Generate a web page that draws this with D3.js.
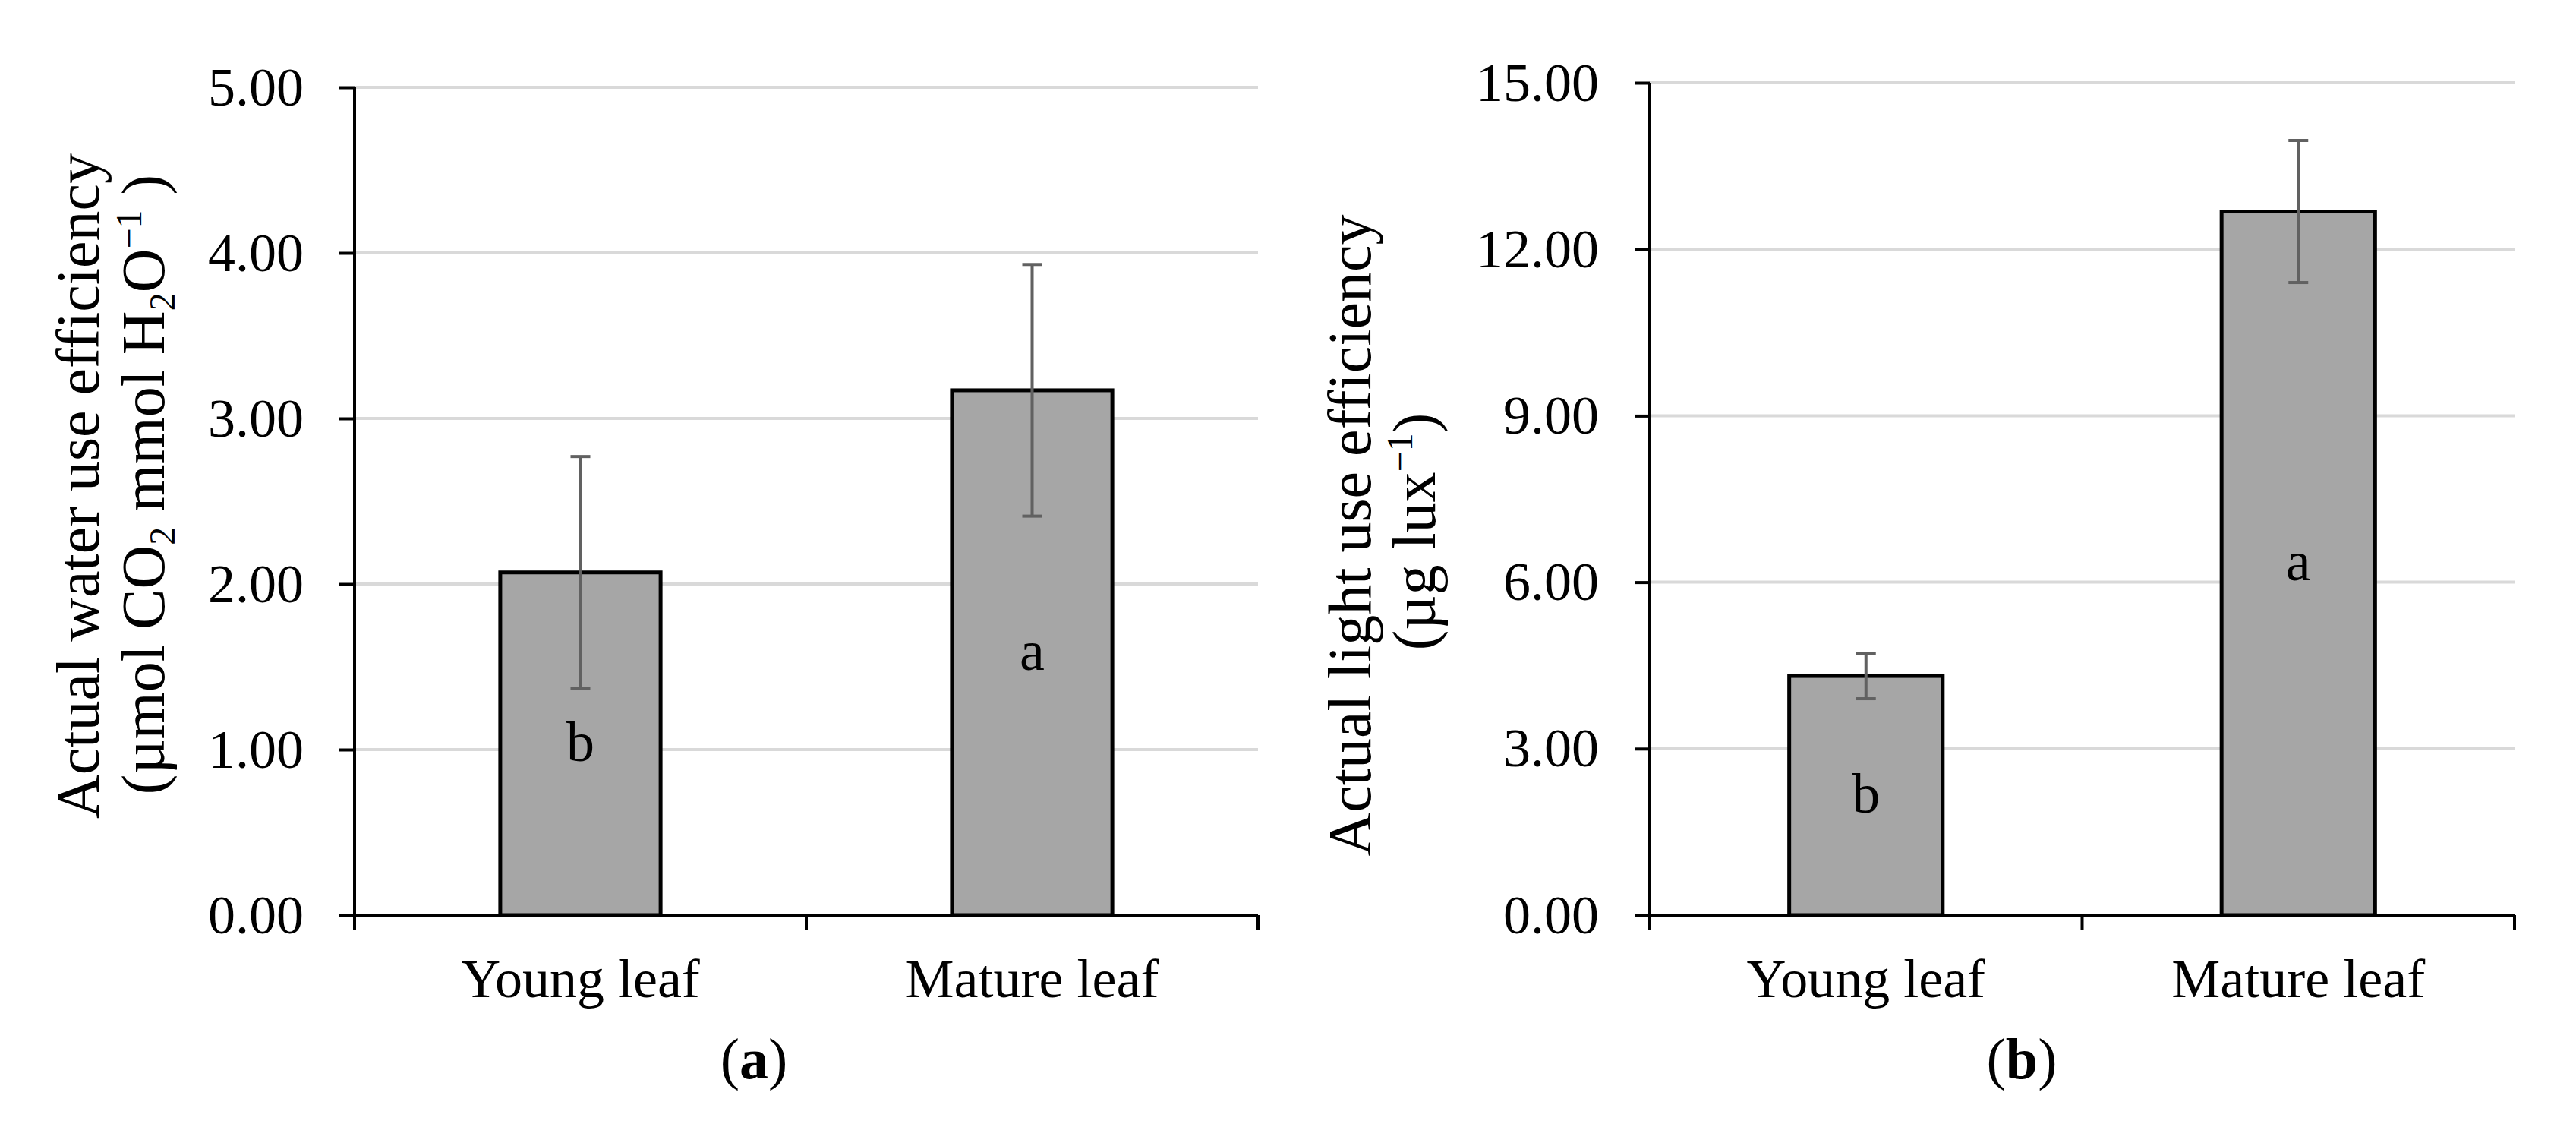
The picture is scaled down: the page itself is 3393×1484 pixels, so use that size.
<!DOCTYPE html>
<html>
<head>
<meta charset="utf-8">
<script src="https://cdn.jsdelivr.net/npm/d3@7"></script>
<style>
  body { margin: 0; background: #fff; }
  text { font-family: "Liberation Serif", "Times New Roman", serif; fill: #000; }
</style>
</head>
<body>
<div id="chart"></div>
<script>
var svgWidth = 3393;
var svgHeight = 1484;

// data
var categories = ["Young leaf", "Mature leaf"];
var wueMeans = [2.07, 3.17];
var wueErrors = [0.70, 0.76];
var wueLetters = ["b", "a"];
var wueTicks = [0, 1, 2, 3, 4, 5];

var lueMeans = [4.31, 12.68];
var lueErrors = [0.41, 1.28];
var lueLetters = ["b", "a"];
var lueTicks = [0, 3, 6, 9, 12, 15];

var svg = d3.select("#chart")
  .append("svg")
  .attr("width", svgWidth)
  .attr("height", svgHeight);

function drawPanel(p) {
  var g = svg.append("g");

  var xScale = d3.scaleBand()
    .domain(categories)
    .range([p.left, p.right]);

  var yScale = d3.scaleLinear()
    .domain([0, d3.max(p.ticks)])
    .range([p.bottom, p.top]);

  // gridlines
  g.append("g")
    .selectAll("line")
    .data(p.ticks.filter(function(t) { return t > 0; }))
    .enter()
    .append("line")
    .attr("x1", p.left)
    .attr("x2", p.right)
    .attr("y1", function(d) { return yScale(d); })
    .attr("y2", function(d) { return yScale(d); })
    .attr("stroke", "#d9d9d9")
    .attr("stroke-width", 4);

  // bars
  var barFrac = 0.355;
  var bw = xScale.bandwidth() * barFrac;
  var rows = categories.map(function(c, i) {
    return { cat: c, mean: p.means[i], err: p.errors[i], letter: p.letters[i] };
  });

  g.selectAll("rect.bar")
    .data(rows)
    .enter()
    .append("rect")
    .attr("class", "bar")
    .attr("x", function(d) { return xScale(d.cat) + (xScale.bandwidth() - bw) / 2; })
    .attr("y", function(d) { return yScale(d.mean); })
    .attr("width", bw)
    .attr("height", function(d) { return p.bottom - yScale(d.mean); })
    .attr("fill", "#a6a6a6")
    .attr("stroke", "#000")
    .attr("stroke-width", 5);

  // error bars
  var cap = 13;
  var eb = g.selectAll("g.err")
    .data(rows)
    .enter()
    .append("g")
    .attr("class", "err")
    .attr("stroke", "#616161")
    .attr("stroke-width", 4);
  var cx = function(d) { return xScale(d.cat) + xScale.bandwidth() / 2; };
  eb.append("line")
    .attr("x1", cx).attr("x2", cx)
    .attr("y1", function(d) { return yScale(d.mean + d.err); })
    .attr("y2", function(d) { return yScale(d.mean - d.err); });
  eb.append("line")
    .attr("x1", function(d) { return cx(d) - cap; })
    .attr("x2", function(d) { return cx(d) + cap; })
    .attr("y1", function(d) { return yScale(d.mean + d.err); })
    .attr("y2", function(d) { return yScale(d.mean + d.err); });
  eb.append("line")
    .attr("x1", function(d) { return cx(d) - cap; })
    .attr("x2", function(d) { return cx(d) + cap; })
    .attr("y1", function(d) { return yScale(d.mean - d.err); })
    .attr("y2", function(d) { return yScale(d.mean - d.err); });

  // significance letters in the middle of each bar
  g.selectAll("text.letter")
    .data(rows)
    .enter()
    .append("text")
    .attr("class", "letter")
    .attr("x", cx)
    .attr("y", function(d) { return (yScale(d.mean) + p.bottom) / 2; })
    .attr("dy", "0.3em")
    .attr("text-anchor", "middle")
    .style("font-size", "74px")
    .text(function(d) { return d.letter; });

  // y axis
  var leftAxis = d3.axisLeft(yScale)
    .tickValues(p.ticks)
    .tickFormat(d3.format(".2f"))
    .tickSize(20)
    .tickSizeOuter(0)
    .tickPadding(47);
  var ya = g.append("g")
    .attr("transform", "translate(" + p.left + ",0)")
    .call(leftAxis);
  ya.select(".domain").remove();
  ya.selectAll(".tick line").attr("stroke", "#000").attr("stroke-width", 4);
  ya.selectAll(".tick text")
    .attr("fill", "#000")
    .style("font-size", "72px")
    .style("font-family", "Liberation Serif, Times New Roman, serif");

  // x axis (labels centred on bands, ticks on band edges)
  var bottomAxis = d3.axisBottom(xScale).tickSize(0).tickSizeOuter(0);
  var xa = g.append("g")
    .attr("transform", "translate(0," + p.bottom + ")")
    .call(bottomAxis);
  xa.select(".domain").remove();
  xa.selectAll(".tick text")
    .attr("y", 108)
    .attr("dy", null)
    .attr("fill", "#000")
    .style("font-size", "72px")
    .style("font-family", "Liberation Serif, Times New Roman, serif");

  var edges = categories.map(function(c) { return xScale(c); }).concat([xScale.range()[1]]);
  g.selectAll("line.xtick")
    .data(edges)
    .enter()
    .append("line")
    .attr("class", "xtick")
    .attr("x1", function(d) { return d; })
    .attr("x2", function(d) { return d; })
    .attr("y1", p.bottom)
    .attr("y2", p.bottom + 20)
    .attr("stroke", "#000")
    .attr("stroke-width", 4);

  // axis lines
  g.append("line")
    .attr("x1", p.left).attr("x2", p.left)
    .attr("y1", p.top).attr("y2", p.bottom)
    .attr("stroke", "#000").attr("stroke-width", 4);
  g.append("line")
    .attr("x1", p.left - 20).attr("x2", p.right)
    .attr("y1", p.bottom).attr("y2", p.bottom)
    .attr("stroke", "#000").attr("stroke-width", 4);

  // y axis title (two lines)
  var t1 = g.append("text")
    .attr("transform", "translate(" + p.title1X + "," + p.titleY + ") rotate(-90)")
    .attr("text-anchor", "middle")
    .style("font-size", "80px");
  t1.text(p.title1);

  var t2 = g.append("text")
    .attr("transform", "translate(" + p.title2X + "," + p.titleY2 + ") rotate(-90)")
    .attr("text-anchor", "middle")
    .style("font-size", "80px");
  p.title2.forEach(function(part) {
    var ts = t2.append("tspan").text(part.t);
    if (part.sub) ts.style("font-size", "48px").attr("baseline-shift", "-14");
    if (part.sup) ts.style("font-size", "48px").attr("baseline-shift", "30");
  });

  // panel letter
  var pl = g.append("text")
    .attr("x", p.labelX)
    .attr("y", 1420)
    .attr("text-anchor", "middle")
    .style("font-size", "76px");
  pl.append("tspan").text("(");
  pl.append("tspan").style("font-weight", "bold").text(p.label);
  pl.append("tspan").text(")");
}

drawPanel({
  left: 467, right: 1657, top: 115, bottom: 1205,
  ticks: wueTicks, means: wueMeans, errors: wueErrors, letters: wueLetters,
  title1: "Actual water use efficiency",
  title2: [
    { t: "(\u00b5mol CO" }, { t: "2", sub: true }, { t: " mmol H" }, { t: "2", sub: true },
    { t: "O" }, { t: "\u22121", sup: true }, { t: " )" }
  ],
  title1X: 130, title2X: 216, titleY: 640, titleY2: 638,
  label: "a", labelX: 993
});

drawPanel({
  left: 2173, right: 3312, top: 109, bottom: 1205,
  ticks: lueTicks, means: lueMeans, errors: lueErrors, letters: lueLetters,
  title1: "Actual light use efficiency",
  title2: [
    { t: "(\u00b5g lux" }, { t: "\u22121", sup: true }, { t: ")" }
  ],
  title1X: 1805, title2X: 1890, titleY: 705, titleY2: 700,
  label: "b", labelX: 2663
});
</script>
</body>
</html>
